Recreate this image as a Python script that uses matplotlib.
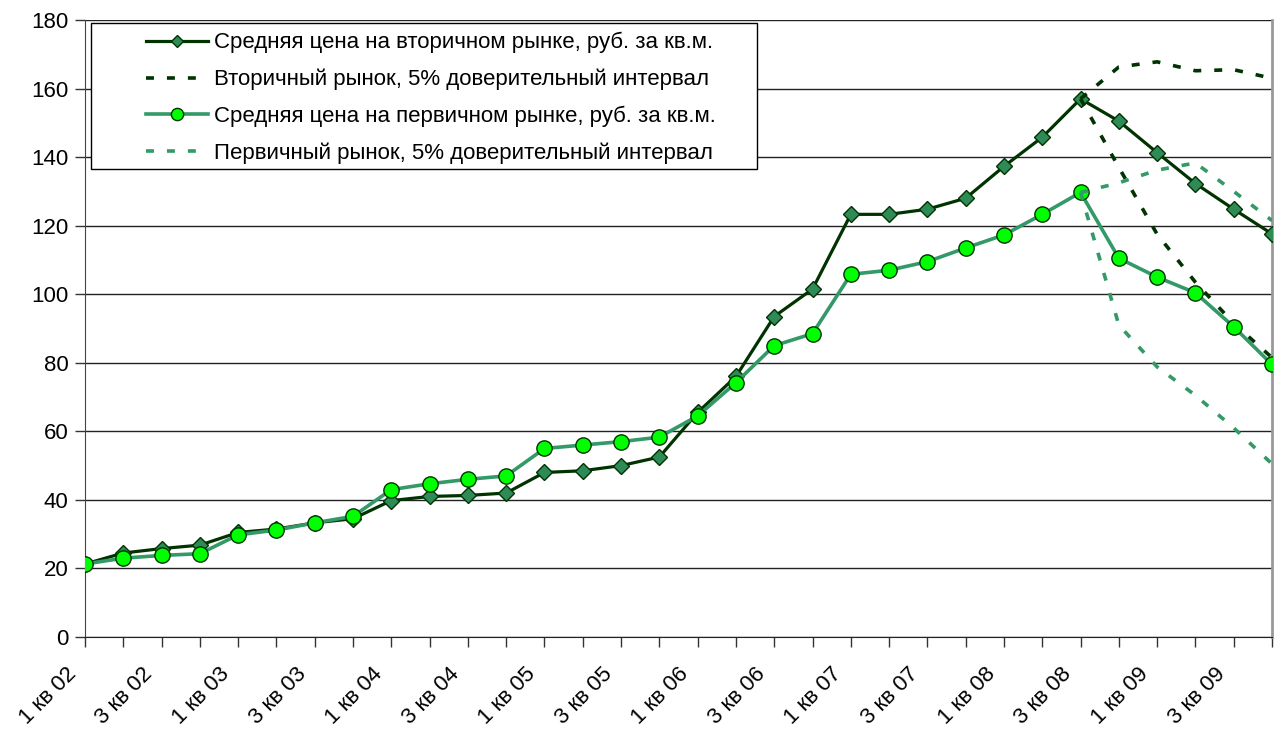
import matplotlib.pyplot as plt
from matplotlib.patches import Rectangle
from matplotlib.transforms import ScaledTranslation

plt.rcParams['font.family'] = ['Liberation Sans', 'DejaVu Sans']

# quarters 1 кв 02 .. 4 кв 09
n_quarters = 32
tick_labels = ['1 кв 02', '3 кв 02', '1 кв 03', '3 кв 03', '1 кв 04', '3 кв 04',
               '1 кв 05', '3 кв 05', '1 кв 06', '3 кв 06', '1 кв 07', '3 кв 07',
               '1 кв 08', '3 кв 08', '1 кв 09', '3 кв 09']

secondary = [21.3, 24.5, 25.8, 26.8, 30.5, 31.5, 33.3, 34.5,
             39.8, 41.0, 41.3, 42.0, 48.0, 48.5, 50.0, 52.5,
             65.5, 76.0, 93.5, 101.5, 123.3, 123.3, 124.8, 128.0,
             137.3, 145.8, 157.0, 150.5, 141.3, 132.3, 124.8, 117.6]

primary = [21.3, 23.0, 23.8, 24.3, 29.8, 31.2, 33.3, 35.2,
           43.0, 44.7, 46.0, 47.0, 55.0, 56.0, 57.0, 58.3,
           64.5, 74.2, 85.0, 88.5, 105.8, 107.0, 109.5, 113.5,
           117.3, 123.3, 129.7, 110.5, 105.0, 100.4, 90.5, 79.5]

# confidence intervals start at 3 кв 08 (index 26)
ci_start = 26
secondary_ci_hi = [157.0, 166.3, 167.8, 165.2, 165.5, 163.0]
secondary_ci_lo = [157.0, 137.0, 117.5, 103.5, 91.5, 81.5]
primary_ci_hi = [129.7, 132.5, 136.2, 138.3, 130.0, 121.5]
primary_ci_lo = [129.7, 91.0, 78.8, 70.5, 61.0, 50.5]

dark = '#003300'
mid = '#339966'

fig = plt.figure(figsize=(12.85, 7.29), dpi=100)
ax = fig.add_axes([85 / 1285, 92 / 729, 1187 / 1285, 617 / 729])

x = list(range(n_quarters))
x_ci = list(range(ci_start, n_quarters))
dots = (0, (2.2, 3.6))

ax.plot(x, secondary, color=dark, lw=2.3, marker='D', markersize=8,
        markerfacecolor='#2E8B57', markeredgecolor=dark, markeredgewidth=1,
        label='Средняя цена на вторичном рынке, руб. за кв.м.', zorder=3)
ax.plot(x_ci, secondary_ci_hi, color=dark, lw=2.6, linestyle=dots,
        label='Вторичный рынок, 5% доверительный интервал', zorder=3)
ax.plot(x_ci, secondary_ci_lo, color=dark, lw=2.6, linestyle=dots, zorder=3)
ax.plot(x, primary, color=mid, lw=2.6, marker='o', markersize=11,
        markerfacecolor='#00FF00', markeredgecolor='#003300', markeredgewidth=1,
        label='Средняя цена на первичном рынке, руб. за кв.м.', zorder=4)
ax.plot(x_ci, primary_ci_hi, color=mid, lw=2.6, linestyle=dots,
        label='Первичный рынок, 5% доверительный интервал', zorder=4)
ax.plot(x_ci, primary_ci_lo, color=mid, lw=2.6, linestyle=dots, zorder=4)

ax.set_xlim(0, n_quarters - 1)
ax.set_ylim(0, 180)
ax.set_yticks(range(0, 181, 20))
ax.yaxis.grid(True, color='#222222', lw=1)
ax.set_axisbelow(True)

ax.set_xticks(x, minor=True)
ax.set_xticks(x[::2])
ax.set_xticklabels(tick_labels, rotation=45, ha='right', va='center',
                   rotation_mode='anchor')
ax.tick_params(axis='both', which='both', direction='out', length=7,
               width=1, color='#333333', labelsize=16)
ax.tick_params(axis='x', pad=16)
ax.tick_params(axis='y', pad=5)
shift = ScaledTranslation(-12 / 100, -2 / 100, fig.dpi_scale_trans)
for lbl in ax.get_xticklabels():
    lbl.set_transform(lbl.get_transform() + shift)

ax.spines['top'].set_visible(False)
ax.spines['right'].set_color('#999999')
ax.spines['right'].set_linewidth(2)
ax.spines['left'].set_color('#444444')
ax.spines['bottom'].set_color('#222222')

# legend box drawn separately, entries placed inside it
box = Rectangle((91 / 1285, 1 - 169 / 729), 666 / 1285, 146 / 729,
                transform=fig.transFigure, facecolor='white', edgecolor='black',
                lw=1, zorder=4.5, clip_on=False)
ax.add_patch(box)
leg = ax.legend(loc='upper left', bbox_to_anchor=(146 / 1285, 1 - 32 / 729),
                bbox_transform=fig.transFigure, fontsize=16, frameon=False,
                handlelength=2.8, borderpad=0, labelspacing=0.7,
                handletextpad=0.25, borderaxespad=0, markerscale=0.8)
leg.set_zorder(5)

fig.savefig('out.png', dpi=100)
